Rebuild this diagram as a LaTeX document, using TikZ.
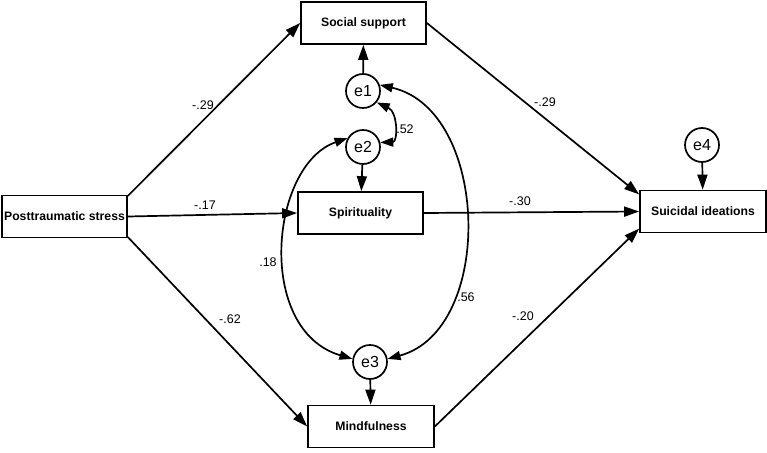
\documentclass[tikz,border=0pt]{standalone}
\usepackage{fontspec}
\setmainfont{Liberation Sans}
\usetikzlibrary{arrows.meta}
\begin{document}
\begin{tikzpicture}[x=1pt,y=-1pt,
  box/.style={draw,line width=1.7pt,minimum height=42pt,inner sep=0pt,font=\fontsize{12.2}{14}\selectfont\bfseries},
  err/.style={draw,circle,line width=1.7pt,minimum size=34pt,inner sep=0pt,font=\fontsize{16}{18}\selectfont},
  path/.style={line width=1.7pt,-{Triangle[length=15pt,width=10pt]}},
  cov/.style={line width=1.7pt,{Triangle[length=13pt,width=9pt]}-{Triangle[length=13pt,width=9pt]}},
  lab/.style={font=\fontsize{12.5}{14}\selectfont}]
\useasboundingbox (0,0) rectangle (767,452);
\node[box,minimum width=125pt] (pts) at (64.5,216.5) {Posttraumatic stress};
\node[box,minimum width=125pt] (soc) at (363.5,23) {Social support};
\node[box,minimum width=125pt] (spi) at (360.5,213) {Spirituality};
\node[box,minimum width=126pt] (min) at (371,426.5) {Mindfulness};
\node[box,minimum width=126pt] (sui) at (703,211.5) {Suicidal ideations};
\node[err] (e1) at (363,91) {e1};
\node[err] (e2) at (363,147) {e2};
\node[err] (e3) at (370,362) {e3};
\node[err] (e4) at (702,145) {e4};
\draw[path] (e1) -- (soc);
\draw[path] (e2) -- (spi);
\draw[path] (e3) -- (min);
\draw[path] (e4) -- (sui);
\draw[path] (pts.18) -- (soc.west);
\draw[path] (pts.east) -- (spi.west);
\draw[path] (pts.-18) -- (min.west);
\draw[path] (soc.east) -- (sui.165);
\draw[path] (spi.east) -- (sui.west);
\draw[path] (min.east) -- (sui.-165);
\draw[cov] (e1.-40) .. controls (398,112) and (398,142) .. (e2.15);
\draw[cov] (e2.150) .. controls (270,165) and (255,330) .. (e3.170);
\draw[cov] (e1.20) .. controls (490,110) and (495,330) .. (e3.10);
\node[lab] (l1) at (203,105) {-.29};
\node[lab] (l2) at (205,205) {-.17};
\node[lab] (l3) at (230,319) {-.62};
\node[lab] (l4) at (545,102) {-.29};
\node[lab] (l5) at (520,201) {-.30};
\node[lab] (l6) at (523,316) {-.20};
\node[lab] (l7) at (405,129) {.52};
\node[lab] (l8) at (268,262) {.18};
\node[lab] (l9) at (466,297) {.56};
\end{tikzpicture}
\end{document}
